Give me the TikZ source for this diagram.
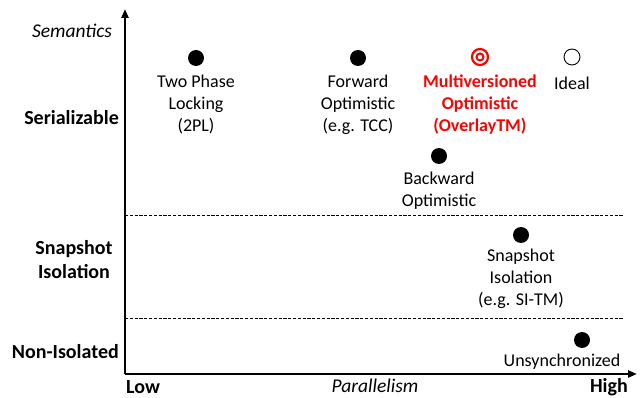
\documentclass[tikz,border=0pt]{standalone}
\usepackage{fontspec}
\setmainfont{Carlito}
\usetikzlibrary{arrows.meta}
\definecolor{hlred}{RGB}{255,0,0}
\tikzset{
  axis/.style={line width=2.2pt,-{Triangle[length=9pt,width=7pt]}},
  band/.style={line width=0.9pt,dash pattern=on 3.2pt off 1.6pt},
  dot/.style={circle,fill=black,minimum size=16pt,inner sep=0pt},
  hollow/.style={circle,draw=black,line width=0.9pt,fill=white,minimum size=16pt,inner sep=0pt},
  txt/.style={align=center,inner sep=0pt,font=\fontsize{18}{22}\selectfont},
  ital/.style={inner sep=0pt,font=\fontsize{19.5}{22}\selectfont\itshape},
  lvl/.style={align=center,inner sep=0pt,font=\fontsize{20}{24}\selectfont\bfseries},
  hot/.style={txt,text=hlred,font=\fontsize{18}{22}\selectfont\bfseries},
}
\begin{document}
\begin{tikzpicture}[x=1pt,y=-1pt]
\useasboundingbox (0,0) rectangle (640,398);

% axes
\coordinate (o) at (125,374);
\coordinate (ytip) at (125,9);
\coordinate (xtip) at (637,374);
\draw[axis] (o) -- (ytip);
\draw[axis] (o) -- (xtip);

% semantic bands
\coordinate (b1l) at (125,215);
\coordinate (b1r) at (623,215);
\coordinate (b2l) at (125,318);
\coordinate (b2r) at (623,318);
\draw[band] (b1l) -- (b1r);
\draw[band] (b2l) -- (b2r);

% axis titles
\node[ital] (sem) at (72,31) {Semantics};
\node[ital] (par) at (375,386) {Parallelism};
\node[lvl,anchor=west] (low) at (126,387) {Low};
\node[lvl,anchor=east] (high) at (628,387) {High};

% level labels
\node[lvl,anchor=east] (ser) at (119,118) {Serializable};
\node[lvl] (si) at (74,260) {Snapshot\\Isolation};
\node[lvl,anchor=east] (ni) at (119,352) {Non-Isolated};

% systems
\node[dot] (p2pl) at (196,58) {};
\node[txt] (l2pl) at (196,105) {Two Phase\\Locking\\(2PL)};

\node[dot] (pfwd) at (358,58) {};
\node[txt] (lfwd) at (358,105) {Forward\\Optimistic\\(e.g. TCC)};

\node[circle,draw=hlred,line width=2.2pt,minimum size=16pt,inner sep=0pt] (pmv) at (480,57) {};
\node[circle,draw=hlred,line width=2pt,minimum size=7pt,inner sep=0pt] (pmvin) at (480,57) {};
\node[hot] (lmv) at (480,105) {Multiversioned\\Optimistic\\(OverlayTM)};

\node[hollow] (pid) at (572,57) {};
\node[txt] (lid) at (572,83) {Ideal};

\node[dot] (pbwd) at (439,156) {};
\node[txt] (lbwd) at (439,191) {Backward\\Optimistic};

\node[dot] (psi) at (521,235) {};
\node[txt] (lsi) at (521,279) {Snapshot\\Isolation\\(e.g. SI-TM)};

\node[dot] (pun) at (582,340) {};
\node[txt] (lun) at (562,362) {Unsynchronized};
\end{tikzpicture}
\end{document}
